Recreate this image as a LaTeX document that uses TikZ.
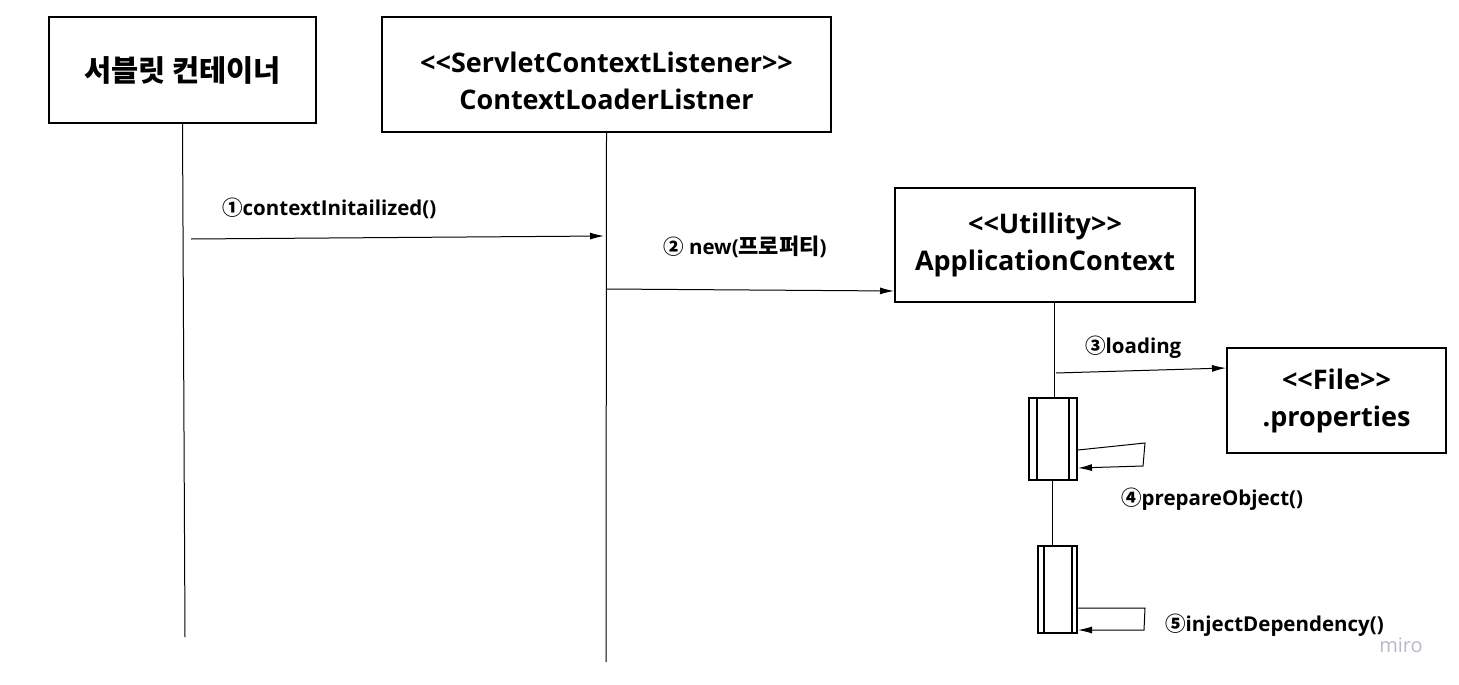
\documentclass[tikz,border=0pt]{standalone}
\usepackage{fontspec}
\setmainfont{Open Sans}
\newfontfamily\cjk{Noto Sans CJK KR}
\usetikzlibrary{arrows.meta}
\tikzset{
  box/.style={draw, line width=2pt, rectangle, align=center, font=\fontsize{27}{37}\selectfont\bfseries, inner sep=0pt},
  act/.style={draw, line width=2pt, rectangle, inner sep=0pt},
  life/.style={line width=1pt},
  arr/.style={line width=1pt, -{Latex[length=14pt,width=7pt]}},
  lbl/.style={font=\fontsize{20.5}{24}\selectfont\bfseries, inner sep=0pt},
}
\newcommand{\cjkb}[1]{{\cjk\bfseries #1}}
\newcommand{\myll}{<{}<}
\newcommand{\myrr}{>{}>}
\begin{document}
\begin{tikzpicture}[x=1pt,y=-1pt]
\useasboundingbox[fill=white] (0,0) rectangle (1459,685);
% boxes
\node[box, minimum width=267pt, minimum height=106pt] (cont) at (182.5,70) {{\fontsize{29.5}{37}\selectfont\cjkb{서블릿 컨테이너}}};
\node[box, minimum width=449pt, minimum height=115pt,
  label={[align=center, font=\fontsize{27}{37}\selectfont\bfseries, inner sep=0pt, yshift=-6pt]center:\myll ServletContextListener\myrr\\ContextLoaderListner}] (lis) at (606.5,74.5) {};
\node[box, minimum width=300pt, minimum height=114pt] (app) at (1045,245) {\myll Utillity\myrr\\ApplicationContext};
\node[box, minimum width=219pt, minimum height=105pt] (prop) at (1336.5,400.5) {\myll File\myrr\\.properties};
\node[act, minimum width=48pt, minimum height=82pt] (act1) at (1053,439) {};
\node[act, minimum width=39pt, minimum height=87pt] (act2) at (1057.5,589.5) {};
\draw[line width=2pt] ([xshift=9pt]act1.north west) -- ([xshift=9pt]act1.south west);
\draw[line width=2pt] ([xshift=-9pt]act1.north east) -- ([xshift=-9pt]act1.south east);
\draw[line width=2pt] ([xshift=7pt]act2.north west) -- ([xshift=7pt]act2.south west);
\draw[line width=2pt] ([xshift=-6pt]act2.north east) -- ([xshift=-6pt]act2.south east);
% lifelines
\coordinate (contEnd) at (185,637);
\coordinate (lisEnd) at (606,662);
\draw[life] (cont.south) -- (contEnd);
\draw[life] (lis.south) -- (lisEnd);
\draw[life] (app.south -| 1054,0) -- (act1.north -| 1054,0);
\draw[life] (act1.south -| 1052,0) -- (act2.north -| 1052,0);
% messages
\coordinate (m1s) at (191,239);
\coordinate (m1e) at (604,236);
\draw[arr] (m1s) -- (m1e);
\node[lbl, anchor=west] (l1) at (222,208) {\cjkb{①}contextInitailized()};
\coordinate (m2s) at (606,289);
\draw[arr] (m2s) -- (app.west |- 0,291);
\node[lbl, anchor=west] (l2) at (663,247) {\cjkb{②} new({\fontsize{22}{24}\selectfont\cjkb{프로퍼티}})};
\coordinate (m3s) at (1056,373);
\draw[arr] (m3s) -- (prop.west |- 0,368);
\node[lbl, anchor=west] (l3) at (1085,347) {\cjkb{③}loading};
% self messages
\coordinate (s1a) at (1145,443);
\coordinate (s1b) at (1143,466);
\draw[arr] (act1.east |- 0,450) -- (s1a) -- (s1b) -- (act1.east |- 0,468);
\node[lbl, anchor=west] (l4) at (1121,499) {\cjkb{④}prepareObject()};
\coordinate (s2a) at (1145,608);
\coordinate (s2b) at (1144,630);
\draw[arr] (act2.east |- 0,608) -- (s2a) -- (s2b) -- (act2.east |- 0,630);
\node[lbl, anchor=west] (l5) at (1165,625) {\cjkb{⑤}injectDependency()};
% watermark
\node[font=\fontsize{20}{22}\selectfont, text={rgb,255:red,185;green,185;blue,200}, inner sep=0pt] (miro) at (1401,645) {miro};
\end{tikzpicture}
\end{document}
